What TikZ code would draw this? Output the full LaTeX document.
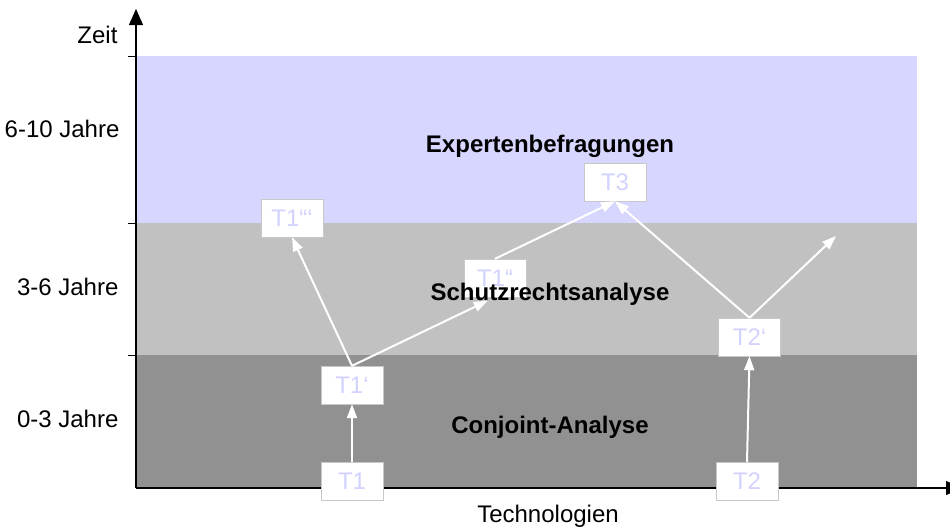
\documentclass[tikz,border=0pt]{standalone}
\usepackage{fontspec}
\setmainfont{Liberation Sans}
\usepackage{tikz}
\usetikzlibrary{arrows.meta,positioning,calc}
\definecolor{bandblue}{RGB}{214,214,255}
\definecolor{bandlight}{RGB}{192,193,192}
\definecolor{banddark}{RGB}{145,145,145}
\definecolor{boxtext}{RGB}{210,210,255}
\definecolor{boxframe}{RGB}{200,200,200}

\begin{document}
\begin{tikzpicture}[x=1pt, y=-1pt,
    techbox/.style={draw=boxframe, fill=white, minimum width=62pt, minimum height=38pt, inner sep=0pt, text=boxtext, font=\fontsize{24}{28}\selectfont},
    flow/.style={draw=white, line width=2pt, -{Triangle[length=14pt,width=10pt]}},
    axis/.style={line width=1.2pt, -{Triangle[length=16pt,width=14pt]}},
    bandlabel/.style={font=\fontsize{24}{28}\selectfont\bfseries},
    axislabel/.style={font=\fontsize{24}{28}\selectfont}]
    \useasboundingbox (0,0) rectangle (950,528);

    % Baender
    \fill[bandblue]  (137,56)  rectangle (917,223);
    \fill[bandlight] (137,223) rectangle (917,355);
    \fill[banddark]  (137,355) rectangle (917,488);

    % Achsen
    \coordinate (origin) at (136,488);
    \coordinate (ytop) at (136,9);
    \coordinate (xend) at (962,488);
    \draw[axis] (origin) -- (ytop);
    \draw[axis] (origin) -- (xend);
    \foreach \y in {56,223,355}
        \draw[line width=1pt] (128,\y) -- (136,\y);

    \node[axislabel, anchor=base east] (zeit) at (121,43) {Zeit};
    \node[axislabel, anchor=base east] (lang) at (123,137) {6-10 Jahre};
    \node[axislabel, anchor=base east] (mittel) at (122,295) {3-6 Jahre};
    \node[axislabel, anchor=base east] (kurz) at (122,427) {0-3 Jahre};
    \node[axislabel, anchor=base] (tech) at (548,522) {Technologien};

    % Technologien
    \node[techbox] (t1) at (352,481) {T1};
    \node[techbox] (t1p) at (352,385) {T1‘};
    \node[techbox] (t1pp) at (495,278) {T1“};
    \node[techbox] (t1ppp) at (292,218) {T1“‘};
    \node[techbox] (t3) at (615,182) {T3};
    \node[techbox] (t2) at (747,481) {T2};
    \node[techbox] (t2p) at (749.5,337) {T2‘};
    \coordinate (t2free) at (836,236);

    \draw[flow] (t1.north) -- (t1p.south);
    \draw[flow] (t1p.north) -- (t1ppp.south);
    \draw[flow, shorten >=8pt] (t1p.north) -- (t1pp.south);
    \draw[flow] (t1pp.north) -- (t3.south);
    \draw[flow] (t2.north) -- (t2p.south);
    \draw[flow] (t2p.north) -- (t3.south);
    \draw[flow] (t2p.north) -- (t2free);

    % Methoden
    \node[bandlabel, anchor=base] (expert) at (550,152) {Expertenbefragungen};
    \node[bandlabel, anchor=base] (schutz) at (550,300) {Schutzrechtsanalyse};
    \node[bandlabel, anchor=base] (conjoint) at (550,433) {Conjoint-Analyse};
\end{tikzpicture}
\end{document}
